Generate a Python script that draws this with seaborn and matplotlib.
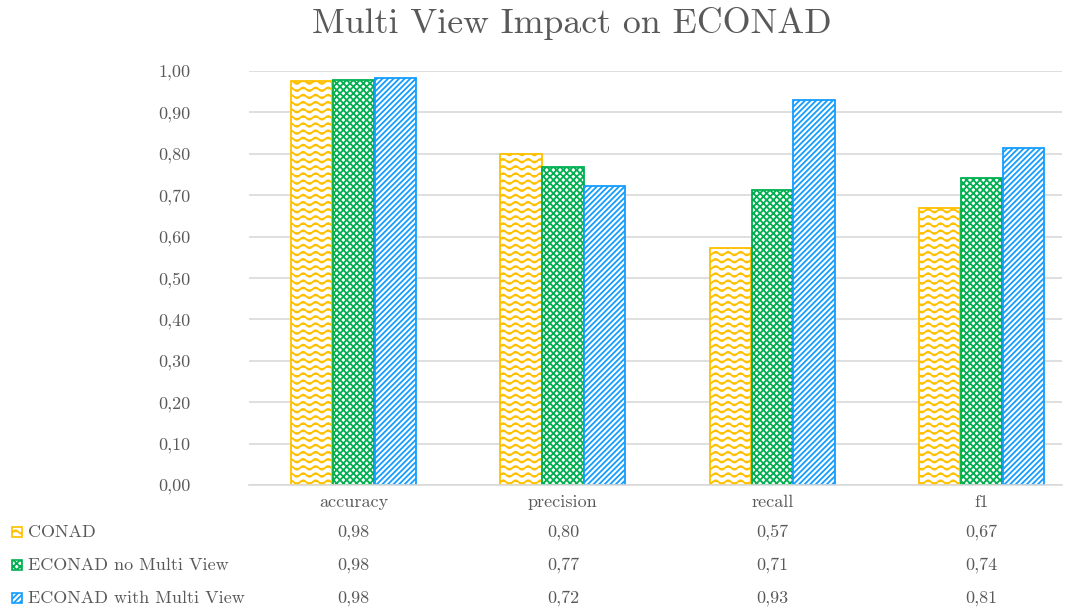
import warnings
import numpy as np
import pandas as pd
import matplotlib
matplotlib.use("Agg")
import matplotlib.pyplot as plt
from matplotlib import hatch as mhatch
from matplotlib.path import Path
from matplotlib.patches import Rectangle
from matplotlib.transforms import blended_transform_factory
import seaborn as sns

warnings.filterwarnings("ignore")

# ---- data ----
metrics = ["accuracy", "precision", "recall", "f1"]
models = ["CONAD", "ECONAD no Multi View", "ECONAD with Multi View"]
conad = [0.976, 0.800, 0.572, 0.669]
econad_no_mv = [0.978, 0.768, 0.713, 0.742]
econad_mv = [0.983, 0.722, 0.930, 0.814]
y_ticks = [0.0, 0.1, 0.2, 0.3, 0.4, 0.5, 0.6, 0.7, 0.8, 0.9, 1.0]

colors = ["#FFC000", "#00B050", "#149DFF"]
hatches = ["~~", "xxxxx", "//////"]
text_color = "#595959"
grid_color = "#D9D9D9"


# ---- wavy hatch pattern ----
class WaveHatch(mhatch.HatchPatternBase):
    samples = 129

    def __init__(self, hatch, density):
        self.num_rows = hatch.count("~") * 7
        self.num_vertices = self.num_rows * self.samples

    def set_vertices_and_codes(self, vertices, codes):
        x = np.linspace(0.0, 1.0, self.samples)
        step = 1.0 / max(self.num_rows, 1)
        for i in range(self.num_rows):
            y0 = (i + 0.5) * step
            sl = slice(i * self.samples, (i + 1) * self.samples)
            vertices[sl, 0] = x
            vertices[sl, 1] = y0 + 0.25 * step * np.sin(2 * np.pi * 8 * x)
            codes[sl] = Path.LINETO
            codes[i * self.samples] = Path.MOVETO


mhatch._hatch_types.append(WaveHatch)

# ---- style ----
sns.set_theme(style="white")
plt.rcParams["font.family"] = ["cmr10", "DejaVu Serif"]
plt.rcParams["axes.unicode_minus"] = False
plt.rcParams["hatch.linewidth"] = 1.3


def fmt(v):
    return f"{v:.2f}".replace(".", ",")


df = pd.DataFrame({
    "metric": metrics * 3,
    "model": np.repeat(models, len(metrics)),
    "value": conad + econad_no_mv + econad_mv,
})

fig = plt.figure(figsize=(10.76, 6.10), dpi=100)
ax = fig.add_axes([249 / 1076, 1 - 485 / 610, (1062 - 249) / 1076, 414 / 610])

sns.barplot(data=df, x="metric", y="value", hue="model", order=metrics,
            hue_order=models, palette=colors, width=0.6, gap=0.015,
            saturation=1, errorbar=None, legend=False, ax=ax)

for container, col, h in zip(ax.containers, colors, hatches):
    for bar in container:
        bar.set_facecolor("white")
        bar.set_edgecolor(col)
        bar.set_hatch(h)
        bar.set_linewidth(1.3)

# plot area is slightly clipped on the right
ax.set_xlim(-0.5, 3.385)
ax.set_ylim(0, 1.0)
ax.set_yticks(y_ticks)
ax.set_yticklabels([fmt(t) for t in y_ticks], color=text_color, fontsize=13)
ax.set_xticks(range(len(metrics)))
ax.set_xticklabels(metrics, color=text_color, fontsize=13)
ax.tick_params(axis="both", length=0)
ax.tick_params(axis="x", pad=7)
ax.tick_params(axis="y", pad=42)
ax.set_xlabel("")
ax.set_ylabel("")
ax.set_axisbelow(True)
ax.yaxis.grid(True, color=grid_color, linewidth=1.2)
for side in ["left", "right", "top"]:
    ax.spines[side].set_visible(False)
ax.spines["bottom"].set_color(grid_color)
ax.spines["bottom"].set_linewidth(1.2)

# ---- title ----
fig.text(0.531, 0.962, "Multi View Impact on ECONAD", ha="center", va="center",
         fontsize=25.8, color=text_color)

# ---- data table below the axis ----
row_y = [1 - 532 / 610, 1 - 565 / 610, 1 - 598 / 610]
trans = blended_transform_factory(ax.transData, fig.transFigure)
series = [conad, econad_no_mv, econad_mv]
for yy, name, vals, col, h in zip(row_y, models, series, colors, hatches):
    fig.text(28 / 1076, yy, name, ha="left", va="center", fontsize=13,
             color=text_color)
    fig.patches.append(Rectangle((12 / 1076, yy - 5 / 610), 10 / 1076, 10 / 610,
                                 transform=fig.transFigure, facecolor="white",
                                 edgecolor=col, hatch=h, linewidth=1.2))
    for i, v in enumerate(vals):
        ax.text(i, yy, fmt(v), transform=trans, ha="center", va="center",
                fontsize=13, color=text_color, clip_on=False)

fig.savefig("out.png", dpi=100)
